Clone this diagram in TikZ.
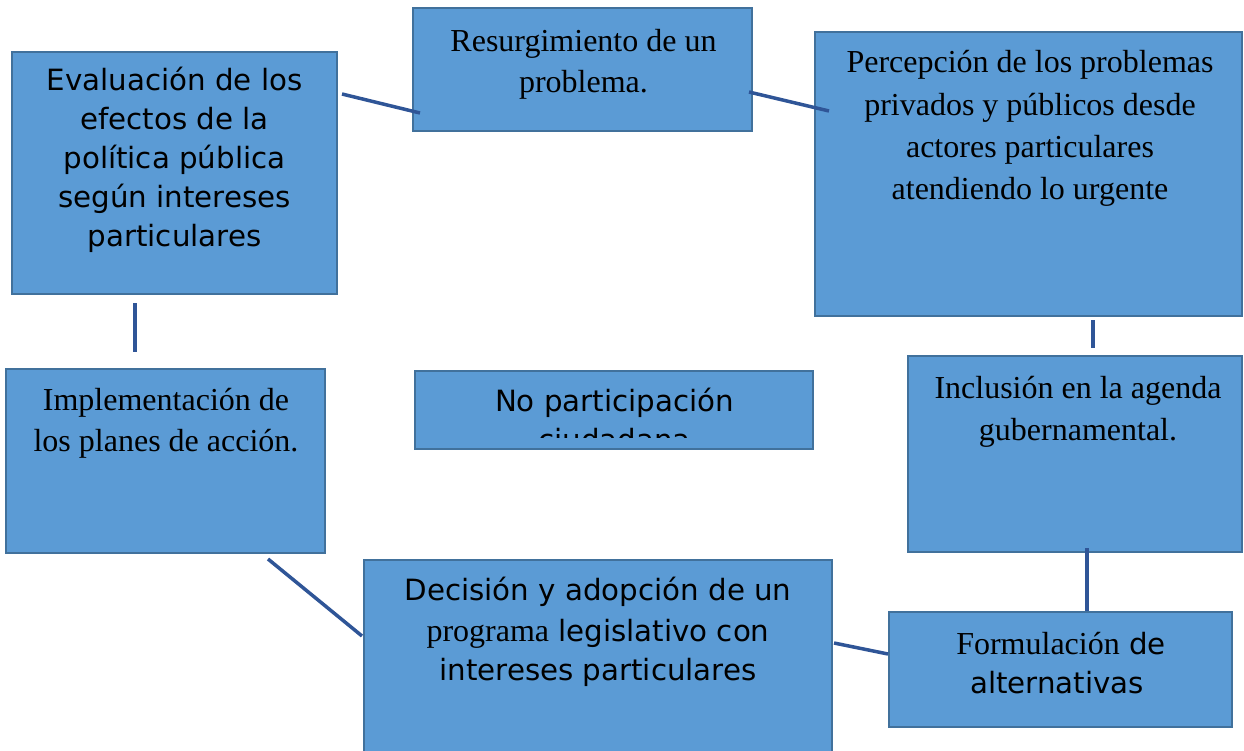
\documentclass[tikz,border=0pt]{standalone}
\usepackage{fontspec}
\newfontfamily\dvsans{DejaVu Sans}
\newfontfamily\lserif{Liberation Serif}
\definecolor{boxfill}{HTML}{5B9BD5}
\definecolor{boxline}{HTML}{41719C}
\definecolor{conn}{HTML}{2F5597}
\begin{document}
\begin{tikzpicture}[x=1pt,y=-1pt,
  box/.style={draw=boxline,fill=boxfill,line width=2.7pt,inner sep=0pt},
  sanstxt/.style={anchor=base,inner sep=0pt,font=\dvsans\fontsize{29.3}{39}\selectfont},
  seriftxt/.style={anchor=base,inner sep=0pt,font=\lserif\fontsize{32}{42}\selectfont},
  link/.style={draw=conn,line width=3.5pt}]
\useasboundingbox (0,0) rectangle (1244,751);
% boxes
\path[box] (12,52) rectangle (337,294);
\node[inner sep=0pt] (eval) at (174.5,173) {};
\path[box] (413,8) rectangle (752,131);
\node[inner sep=0pt] (resurg) at (582.5,69.5) {};
\path[box] (815,32) rectangle (1242,316);
\node[inner sep=0pt] (percep) at (1028,174) {};
\path[box] (6,369) rectangle (325,553);
\node[inner sep=0pt] (impl) at (165.5,461) {};
\path[box] (415,371) rectangle (813,449);
\node[inner sep=0pt] (nopart) at (614,410) {};
\path[box] (908,356) rectangle (1242,552);
\node[inner sep=0pt] (incl) at (1075,454) {};
\path[box] (364,560) rectangle (832,770);
\node[inner sep=0pt] (decis) at (598,655) {};
\path[box] (889,612) rectangle (1232,727);
\node[inner sep=0pt] (formul) at (1060.5,669.5) {};
% texts
\node[sanstxt] (e1) at (174.5,91) {Evaluación de los};
\node[sanstxt] (e2) at (174.5,130) {efectos de la};
\node[sanstxt] (e3) at (174.5,169) {política pública};
\node[sanstxt] (e4) at (174.5,208) {según intereses};
\node[sanstxt] (e5) at (174.5,247) {particulares};
\node[seriftxt] (r1) at (583.5,51.5) {Resurgimiento de un};
\node[seriftxt] (r2) at (583.5,92.5) {problema.};
\node[seriftxt] (p1) at (1030,72.7) {Percepción de los problemas};
\node[seriftxt] (p2) at (1030,115.5) {privados y públicos desde};
\node[seriftxt] (p3) at (1030,157.5) {actores particulares};
\node[seriftxt] (p4) at (1030,199.5) {atendiendo lo urgente};
\node[seriftxt] (i1) at (166,410.5) {Implementación de};
\node[seriftxt] (i2) at (166,451.5) {los planes de acción.};
\begin{scope}
\clip (415,371) rectangle (813,437);
\node[sanstxt] (n1) at (614.5,411) {No participación};
\node[sanstxt] (n2) at (614.5,450) {ciudadana};
\end{scope}
\node[seriftxt] (g1) at (1078,398.5) {Inclusión en la agenda};
\node[seriftxt] (g2) at (1078,440.5) {gubernamental.};
\node[sanstxt] (d1) at (598,600) {Decisión y adopción de un};
\node[sanstxt] (d2) at (598,641) {{\lserif\fontsize{32}{42}\selectfont programa} legislativo con};
\node[sanstxt] (d3) at (598,680) {intereses particulares};
\node[sanstxt] (f1) at (1061,654) {{\lserif\fontsize{32}{42}\selectfont Formulación} de};
\node[sanstxt] (f2) at (1057,693) {alternativas};
% connector end points
\coordinate (c1a) at (342,94);   \coordinate (c1b) at (420,113);
\coordinate (c2a) at (749,92);   \coordinate (c2b) at (829,111);
\coordinate (c3a) at (1093,320); \coordinate (c3b) at (1093,348);
\coordinate (c4a) at (1087,548); \coordinate (c4b) at (1087,611);
\coordinate (c5a) at (834,643);  \coordinate (c5b) at (888,654);
\coordinate (c6a) at (268,559);  \coordinate (c6b) at (362,636);
\coordinate (c7a) at (135,303);  \coordinate (c7b) at (135,352);
\draw[link] (c1a) -- (c1b);
\draw[link] (c2a) -- (c2b);
\draw[link] (c3a) -- (c3b);
\draw[link] (c4a) -- (c4b);
\draw[link] (c5a) -- (c5b);
\draw[link] (c6a) -- (c6b);
\draw[link] (c7a) -- (c7b);
\end{tikzpicture}
\end{document}
